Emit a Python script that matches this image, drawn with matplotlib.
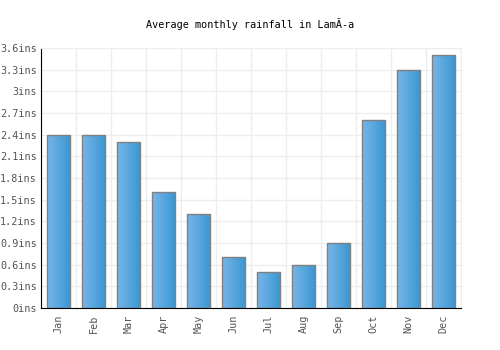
import matplotlib
matplotlib.use("Agg")
import matplotlib.pyplot as plt
import numpy as np
from matplotlib.colors import LinearSegmentedColormap

months = ['Jan', 'Feb', 'Mar', 'Apr', 'May', 'Jun', 'Jul', 'Aug', 'Sep', 'Oct', 'Nov', 'Dec']
rainfall = [2.4, 2.4, 2.3, 1.6, 1.3, 0.7, 0.5, 0.6, 0.9, 2.6, 3.3, 3.5]
yticks = [0, 0.3, 0.6, 0.9, 1.2, 1.5, 1.8, 2.1, 2.4, 2.7, 3.0, 3.3, 3.6]
ytick_labels = ['0ins', '0.3ins', '0.6ins', '0.9ins', '1.2ins', '1.5ins', '1.8ins',
                '2.1ins', '2.4ins', '2.7ins', '3ins', '3.3ins', '3.6ins']

plt.rcParams['font.family'] = ['DejaVu Sans Mono']

fig = plt.figure(figsize=(5, 3.5), dpi=100)
ax = fig.add_axes([0.082, 0.12, 0.84, 0.743])

x = np.arange(len(months))
bars = ax.bar(x, rainfall, width=0.68, color='none', edgecolor='#808080', linewidth=1, zorder=3)

# horizontal gradient fill for each bar
cmap = LinearSegmentedColormap.from_list('rain', ['#76b6ea', '#3a96d0'])
grad = np.linspace(0, 1, 64).reshape(1, -1)
for b in bars:
    x0, y0 = b.get_x(), b.get_y()
    w, h = b.get_width(), b.get_height()
    im = ax.imshow(grad, cmap=cmap, extent=[x0, x0 + w, y0, y0 + h],
                   aspect='auto', zorder=2, interpolation='bilinear')
    im.set_clip_path(b)

ax.set_xlim(-0.5, len(months) - 0.5)
ax.set_ylim(0, 3.6)
ax.set_yticks(yticks)
ax.set_yticklabels(ytick_labels)
ax.set_xticks(x)
ax.set_xticklabels(months, rotation=90)
ax.set_xticks(np.arange(-0.5, len(months), 1), minor=True)

ax.grid(True, which='major', axis='y', color='#eeeeee', linewidth=1, zorder=0)
ax.grid(True, which='minor', axis='x', color='#eeeeee', linewidth=1, zorder=0)
ax.tick_params(axis='x', which='both', length=0, labelsize=7.3, colors='#555555', pad=5)
ax.tick_params(axis='y', which='both', length=0, labelsize=7.3, colors='#555555', pad=3)

for side in ['top', 'right']:
    ax.spines[side].set_color('#eeeeee')
ax.spines['left'].set_color('black')
ax.spines['bottom'].set_color('black')

fig.text(0.5, 0.93, 'Average monthly rainfall in LamÃ-a', ha='center', va='center',
         fontsize=7.3, color='black')

fig.savefig('out.png', dpi=100)
